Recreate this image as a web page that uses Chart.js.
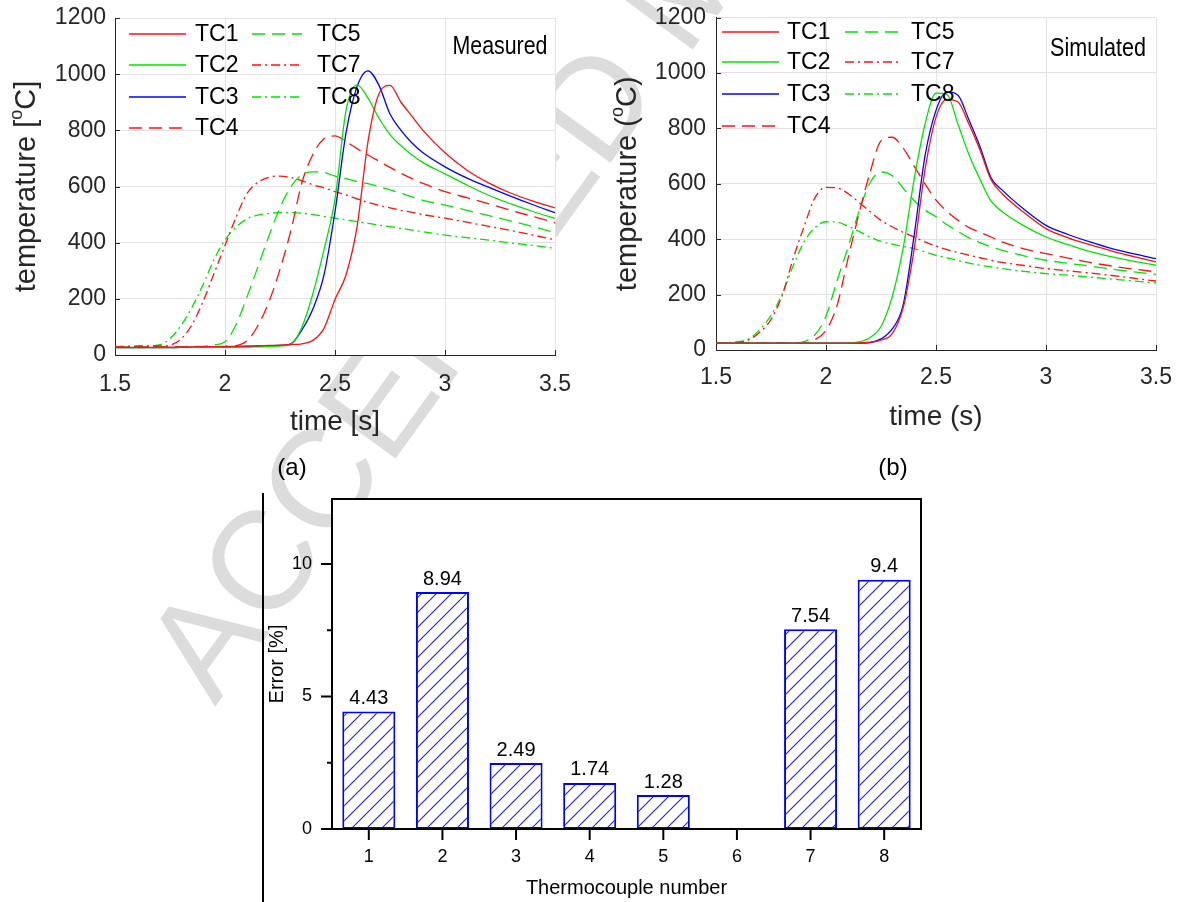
<!DOCTYPE html>
<html><head><meta charset="utf-8">
<script src="https://cdn.jsdelivr.net/npm/chart.js@4/dist/chart.umd.min.js"></script>
<style>
html,body{margin:0;padding:0;background:#fff;}
body{width:1179px;height:902px;position:relative;overflow:hidden;font-family:'Liberation Sans',Arial,sans-serif;}
canvas{position:absolute;}
#ca{left:0;top:0;} #cb{left:590px;top:0;} #cc{left:265px;top:480px;}
.panel{position:absolute;font-size:24px;color:#000;width:60px;text-align:center;line-height:28px;}
#wm{position:absolute;left:0;top:0;}
#vline{position:absolute;left:262px;top:493px;width:2px;height:409px;background:#000;}
</style></head><body>
<svg id="wm" width="1179" height="902"><text transform="translate(215,707) rotate(-54)" font-family="Liberation Sans, Arial, sans-serif" font-size="140" fill="#dcdcdc">ACCEPTED MANUSCRIPT</text></svg>
<canvas id="ca" width="590" height="440"></canvas>
<canvas id="cb" width="589" height="440"></canvas>
<canvas id="cc" width="690" height="422"></canvas>
<div id="vline"></div>
<div class="panel" style="left:262px;top:453px">(a)</div>
<div class="panel" style="left:863px;top:453px">(b)</div>
<script>
// ---------- data ----------
const timeMeasured = [1.5,1.6,1.7,1.75,1.8,1.85,1.9,1.95,2.0,2.05,2.1,2.15,2.2,2.25,2.3,2.35,2.4,2.45,2.5,2.55,2.6,2.65,2.7,2.75,2.8,2.85,2.9,3.0,3.1,3.2,3.3,3.4,3.5];
const measTC1 = [27,27,28,28,28,29,29,30,30,31,32,33,34,35,37,40,52,95,198,285,455,760,930,960,900,850,800,720,658,612,576,548,524];
const measTC2 = [26,26,26,26,27,27,27,27,28,28,28,29,30,32,38,100,220,375,555,870,962,915,843,785,745,712,685,645,605,568,538,511,487];
const measTC3 = [26,26,26,26,27,27,27,28,28,29,30,31,32,34,40,90,165,285,510,790,955,1012,960,858,800,755,720,670,630,597,565,535,507];
const measTC4 = [28,28,29,29,29,30,30,30,31,33,50,105,190,305,445,615,715,770,780,760,735,712,690,668,647,628,611,582,560,538,515,493,471];
const measTC5 = [27,28,28,29,29,30,31,36,47,108,207,315,425,525,600,642,652,650,637,628,618,610,599,588,576,563,551,534,515,496,477,457,436];
const measTC7 = [30,32,32,35,57,108,190,290,390,490,575,615,633,637,632,620,606,595,582,570,556,543,533,524,515,508,500,487,473,458,443,427,410];
const measTC8 = [27,30,36,58,105,170,250,340,410,455,485,498,504,507,507,505,500,494,487,481,475,469,462,457,451,445,439,427,418,409,399,390,380];

const timeSimulated = [1.5,1.6,1.65,1.7,1.75,1.8,1.85,1.9,1.95,2.0,2.05,2.1,2.15,2.2,2.25,2.3,2.35,2.4,2.45,2.5,2.55,2.6,2.65,2.7,2.75,2.8,2.9,3.0,3.1,3.2,3.3,3.4,3.5];
const simTC1 = [25,25,25,25,25,25,25,25,25,25,25,25,26,28,36,58,150,360,650,840,905,895,815,722,615,565,496,438,405,380,357,337,318];
const simTC2 = [25,25,25,25,25,25,25,25,25,25,25,25,29,45,85,190,365,613,815,927,922,815,705,616,538,500,448,408,380,355,336,320,306];
const simTC3 = [25,25,25,25,25,25,25,25,25,25,25,25,25,27,40,75,160,410,700,865,932,920,830,734,622,578,508,450,417,390,366,347,330];
const simTC4 = [25,25,25,25,25,25,25,25,38,71,160,330,492,640,755,768,730,665,600,541,500,468,442,425,408,390,365,348,332,316,303,292,282];
const simTC5 = [25,25,25,25,25,25,25,30,55,122,250,370,500,603,643,630,585,540,505,481,452,428,405,388,372,360,340,324,313,303,292,282,273];
const simTC7 = [25,28,37,65,110,195,328,445,550,587,585,565,533,500,468,445,425,408,390,375,362,352,342,333,324,316,305,294,286,278,269,259,249];
const simTC8 = [25,30,40,75,125,200,302,390,442,463,462,447,428,408,392,382,374,366,354,342,333,323,314,306,300,294,284,276,270,263,256,249,242];

const seriesNames = ['TC1','TC2','TC3','TC4','TC5','TC7','TC8'];
const timeTicks = [1.5,2,2.5,3,3.5];
const tempTicks = [0,200,400,600,800,1000,1200];

const barCategories = ['1','2','3','4','5','6','7','8'];
const barErrors = [4.43,8.94,2.49,1.74,1.28,null,7.54,9.4];
const barMajorTicks = [0,5,10];
const barMinorTicks = [2.5,7.5];

// ---------- styles ----------
const FONT = "'Liberation Sans', Arial, Helvetica, sans-serif";
const RED = '#ff1010', GREEN = '#00e400', BLUE = '#0000ff';
const DASH = [13,7], DASHDOT = [9,4,2,4];
const styles = [
  {c:RED, d:[]}, {c:GREEN, d:[]}, {c:BLUE, d:[]}, {c:RED, d:DASH},
  {c:GREEN, d:DASH}, {c:RED, d:DASHDOT}, {c:GREEN, d:DASHDOT}
];

function makeSets(times, list) {
  return list.map((vals, k) => ({
    label: seriesNames[k],
    data: times.map((t, i) => ({x: t, y: vals[i]})),
    borderColor: styles[k].c,
    borderDash: styles[k].d,
    borderWidth: 1.3,
    pointRadius: 0,
    fill: false,
    cubicInterpolationMode: 'monotone'
  }));
}

function noPad(s) { s.paddingTop = 0; s.paddingBottom = 0; s.paddingLeft = 0; s.paddingRight = 0; }

// ---------- plugins ----------
const plotBgPlugin = {
  id: 'plotBg',
  beforeDraw(chart) {
    const ctx = chart.ctx, a = chart.chartArea;
    ctx.save();
    ctx.fillStyle = '#ffffff';
    ctx.fillRect(a.left, a.top, a.right - a.left, a.bottom - a.top);
    ctx.restore();
  }
};

const yTitlePlugin = {
  id: 'yTitle',
  afterDraw(chart, args, o) {
    const ctx = chart.ctx, a = chart.chartArea;
    const cy = (a.top + a.bottom) / 2;
    ctx.save();
    ctx.translate(o.x, cy);
    ctx.rotate(-Math.PI / 2);
    const big = o.size + 'px ' + FONT, small = Math.round(o.size * 0.62) + 'px ' + FONT;
    let total = 0;
    for (const p of o.parts) { ctx.font = p[1] ? small : big; total += ctx.measureText(p[0]).width; }
    let x = -total / 2;
    ctx.fillStyle = '#262626';
    ctx.textBaseline = 'middle';
    for (const p of o.parts) {
      ctx.font = p[1] ? small : big;
      ctx.fillText(p[0], x, p[1] ? -o.size * 0.33 : 0);
      x += ctx.measureText(p[0]).width;
    }
    ctx.restore();
  }
};

const legendPlugin = {
  id: 'cornerLegend',
  afterDraw(chart, args, o) {
    const ctx = chart.ctx;
    ctx.save();
    for (const col of o.cols) {
      col.items.forEach((idx, r) => {
        const ds = chart.data.datasets[idx];
        const y = o.rows[r];
        ctx.setLineDash(ds.borderDash || []);
        ctx.strokeStyle = ds.borderColor;
        ctx.lineWidth = 1.4;
        ctx.beginPath(); ctx.moveTo(col.x1, y); ctx.lineTo(col.x2, y); ctx.stroke();
        ctx.setLineDash([]);
        ctx.fillStyle = '#000';
        ctx.font = '23px ' + FONT;
        ctx.textBaseline = 'middle';
        ctx.textAlign = 'left';
        ctx.fillText(ds.label, col.tx, y + 1);
      });
    }
    ctx.font = '25px ' + FONT;
    ctx.fillStyle = '#000';
    ctx.textAlign = 'center';
    ctx.textBaseline = 'middle';
    const w = ctx.measureText(o.note.text).width;
    ctx.translate(o.note.x, o.note.y);
    ctx.scale(o.note.width / w, 1);
    ctx.fillText(o.note.text, 0, 0);
    ctx.restore();
  }
};

const innerTicksPlugin = {
  id: 'innerTicks',
  afterDraw(chart, args, o) {
    const ctx = chart.ctx, a = chart.chartArea, sx = chart.scales.x, sy = chart.scales.y;
    ctx.save();
    ctx.strokeStyle = '#262626';
    ctx.lineWidth = 1;
    ctx.beginPath();
    for (const v of tempTicks) { const py = Math.round(sy.getPixelForValue(v)) + 0.5; ctx.moveTo(a.left, py); ctx.lineTo(a.left + o.len, py); }
    for (const v of timeTicks) { const px = Math.round(sx.getPixelForValue(v)) + 0.5; ctx.moveTo(px, a.bottom); ctx.lineTo(px, a.bottom - o.len); }
    ctx.stroke();
    ctx.restore();
  }
};

function lineChart(id, sets, cfg) {
  return new Chart(document.getElementById(id), {
    type: 'line',
    data: {datasets: sets},
    options: {
      responsive: false, animation: false, devicePixelRatio: 1,
      layout: {padding: cfg.padding},
      plugins: {
        legend: {display: false}, tooltip: {enabled: false},
        yTitle: cfg.yTitle, cornerLegend: cfg.legend, innerTicks: {len: 5}
      },
      scales: {
        x: {
          type: 'linear', min: 1.5, max: 3.5,
          afterBuildTicks: s => { s.ticks = timeTicks.map(v => ({value: v})); },
          afterFit: s => { s.height = cfg.xHeight; noPad(s); },
          grid: {color: '#e2e2e2', drawTicks: false, lineWidth: 1},
          border: {color: '#262626', width: 1},
          ticks: {font: {family: FONT, size: 23}, color: '#262626', padding: cfg.xTickPad, maxRotation: 0, autoSkip: false, callback: v => String(v)},
          title: {display: true, text: cfg.xTitle, font: {family: FONT, size: 28}, color: '#262626', padding: {top: 0, bottom: cfg.xTitlePad}}
        },
        y: {
          type: 'linear', min: 0, max: 1200,
          afterBuildTicks: s => { s.ticks = tempTicks.map(v => ({value: v})); },
          afterFit: s => { s.width = cfg.yWidth; noPad(s); },
          grid: {color: '#e2e2e2', drawTicks: false, lineWidth: 1},
          border: {color: '#262626', width: 1},
          ticks: {font: {family: FONT, size: 23}, color: '#262626', padding: cfg.yTickPad, autoSkip: false, callback: v => String(v)}
        }
      }
    },
    plugins: [plotBgPlugin, yTitlePlugin, legendPlugin, innerTicksPlugin]
  });
}

lineChart('ca', makeSets(timeMeasured, [measTC1, measTC2, measTC3, measTC4, measTC5, measTC7, measTC8]), {
  padding: {top: 18, right: 35, left: 0, bottom: 0},
  xHeight: 85, yWidth: 115, xTickPad: 16, yTickPad: 9, xTitlePad: 1,
  xTitle: 'time [s]',
  yTitle: {x: 27, size: 29, parts: [['temperature [', false], ['o', true], ['C]', false]]},
  legend: {
    rows: [34, 65, 97, 128],
    cols: [{x1: 129, x2: 186, tx: 195, items: [0, 1, 2, 3]}, {x1: 252, x2: 302, tx: 317, items: [4, 5, 6]}],
    note: {text: 'Measured', x: 500, y: 47, width: 95}
  }
});

lineChart('cb', makeSets(timeSimulated, [simTC1, simTC2, simTC3, simTC4, simTC5, simTC7, simTC8]), {
  padding: {top: 17.6, right: 23, left: 0, bottom: 0},
  xHeight: 90, yWidth: 126, xTickPad: 14, yTickPad: 10, xTitlePad: 6,
  xTitle: 'time (s)',
  yTitle: {x: 38, size: 29, parts: [['temperature (', false], ['o', true], ['C)', false]]},
  legend: {
    rows: [32, 62, 94, 126],
    cols: [{x1: 132, x2: 189, tx: 197, items: [0, 1, 2, 3]}, {x1: 255, x2: 310, tx: 321, items: [4, 5, 6]}],
    note: {text: 'Simulated', x: 508, y: 49, width: 96}
  }
});

// ---------- bar chart ----------
function makeHatch() {
  const w = 15, h = 15;
  const c = document.createElement('canvas'); c.width = w; c.height = h;
  const g = c.getContext('2d');
  g.fillStyle = '#ffffff'; g.fillRect(0, 0, w, h);
  g.strokeStyle = '#1a1aff'; g.lineWidth = 1.1;
  for (const k of [-1, 0, 1]) { g.beginPath(); g.moveTo(0, h + k * h); g.lineTo(w, k * h); g.stroke(); }
  return g.createPattern(c, 'repeat');
}

const barDecorPlugin = {
  id: 'barDecor',
  afterDraw(chart) {
    const ctx = chart.ctx, a = chart.chartArea, sx = chart.scales.x, sy = chart.scales.y;
    ctx.save();
    ctx.strokeStyle = '#000';
    ctx.lineWidth = 2;
    ctx.strokeRect(a.left, a.top, a.right - a.left, a.bottom - a.top);
    ctx.beginPath();
    for (const v of barMajorTicks) { const py = sy.getPixelForValue(v); ctx.moveTo(a.left, py); ctx.lineTo(a.left - 11, py); }
    for (const v of barMinorTicks) { const py = sy.getPixelForValue(v); ctx.moveTo(a.left, py); ctx.lineTo(a.left - 5, py); }
    barCategories.forEach((c, i) => { const px = sx.getPixelForTick(i); ctx.moveTo(px, a.bottom); ctx.lineTo(px, a.bottom + 11); });
    ctx.stroke();
    const meta = chart.getDatasetMeta(0);
    ctx.fillStyle = '#000';
    ctx.font = '20px ' + FONT;
    ctx.textAlign = 'center';
    ctx.textBaseline = 'bottom';
    meta.data.forEach((el, i) => {
      const v = barErrors[i];
      if (v === null || v === undefined) return;
      ctx.fillText(String(v), el.x, el.y - 3);
    });
    ctx.restore();
  }
};

new Chart(document.getElementById('cc'), {
  type: 'bar',
  data: {
    labels: barCategories,
    datasets: [{
      data: barErrors,
      backgroundColor: makeHatch(),
      borderColor: '#0000ff',
      borderWidth: 2,
      borderSkipped: false,
      barPercentage: 0.72,
      categoryPercentage: 1
    }]
  },
  options: {
    responsive: false, animation: false, devicePixelRatio: 1,
    layout: {padding: {top: 19, right: 34, left: 0, bottom: 0}},
    plugins: {legend: {display: false}, tooltip: {enabled: false}},
    scales: {
      x: {
        afterFit: s => { s.height = 73; noPad(s); },
        grid: {display: false, drawTicks: false},
        border: {display: true, color: '#000', width: 2},
        ticks: {font: {family: FONT, size: 18}, color: '#000', padding: 17},
        title: {display: true, text: 'Thermocouple number', font: {family: FONT, size: 20}, color: '#000', padding: {top: 0, bottom: 2}}
      },
      y: {
        min: 0, max: 12.45,
        afterBuildTicks: s => { s.ticks = barMajorTicks.map(v => ({value: v})); },
        afterFit: s => { s.width = 67; noPad(s); },
        grid: {display: false, drawTicks: false},
        border: {display: true, color: '#000', width: 2},
        ticks: {font: {family: FONT, size: 18}, color: '#000', padding: 20, callback: v => String(v)},
        title: {display: true, text: 'Error [%]', font: {family: FONT, size: 20}, color: '#000', padding: {top: 0, bottom: 0}}
      }
    }
  },
  plugins: [plotBgPlugin, barDecorPlugin]
});
</script>
</body></html>
